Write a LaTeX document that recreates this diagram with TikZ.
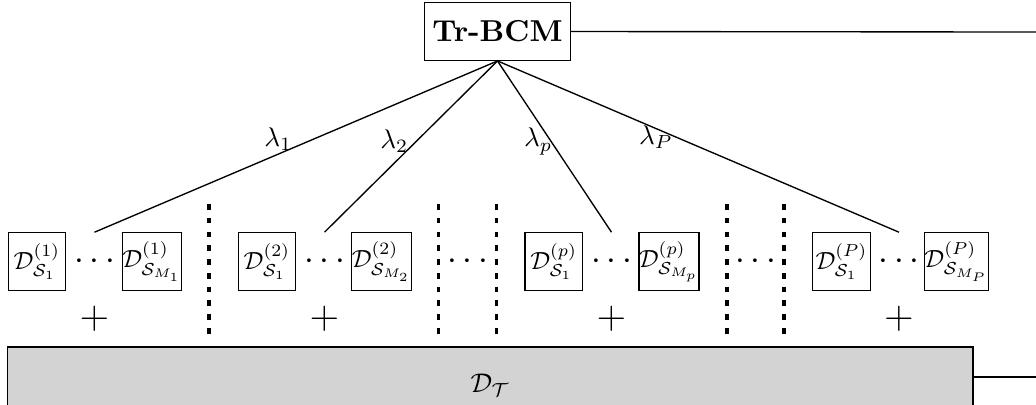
\documentclass[tikz,border=0pt]{standalone}
\usepackage{graphicx}
\usetikzlibrary{calc}
\newcommand{\bx}[1]{\scalebox{0.92}{$#1$}}
\newcommand{\dts}{\scalebox{1.3}{$\cdots$}}
\begin{document}
\begin{tikzpicture}[x=0.3704pt,y=-0.3704pt,
  box/.style={draw,inner sep=0pt,minimum size=21.3pt,line width=0.5pt},
  dotsnode/.style={inner sep=0pt,minimum height=21.3pt},
  plusnode/.style={inner sep=0pt,font=\Large},
  sep/.style={line width=1.2pt,dash pattern=on 2.1pt off 3pt},
  conn/.style={line width=0.5pt},
  lab/.style={inner sep=0pt}]
\useasboundingbox (0,0) rectangle (1036,404);
% top node
\node[draw,line width=0.5pt,inner sep=0pt,minimum width=54.1pt,minimum height=21.3pt] (bcm) at (497.5,31.5) {\scalebox{1.12}{\bfseries Tr-BCM}};
\coordinate (r1) at (1036,32);
\draw[conn] (bcm.east) -- (r1);
% group 1
\node[box] (a1) at (37,261.5) {\bx{\mathcal{D}^{(1)}_{\mathcal{S}_1}}};
\node[box] (b1) at (152,261.5) {\bx{\mathcal{D}^{(1)}_{\mathcal{S}_{M_1}}}};
\node[dotsnode] (d1) at (94.5,261.5) {\dts};
% group 2
\node[box] (a2) at (267,261.5) {\bx{\mathcal{D}^{(2)}_{\mathcal{S}_1}}};
\node[box] (b2) at (381.5,261.5) {\bx{\mathcal{D}^{(2)}_{\mathcal{S}_{M_2}}}};
\node[dotsnode] (d2) at (324.5,261.5) {\dts};
% group p
\node[box] (a3) at (553.8,261.5) {\bx{\mathcal{D}^{(p)}_{\mathcal{S}_1}}};
\node[box] (b3) at (669,261.5) {\bx{\mathcal{D}^{(p)}_{\mathcal{S}_{M_p}}}};
\node[dotsnode] (d3) at (611.5,261.5) {\dts};
% group P
\node[box] (a4) at (841.5,261.5) {\bx{\mathcal{D}^{(P)}_{\mathcal{S}_1}}};
\node[box] (b4) at (956.5,261.5) {\bx{\mathcal{D}^{(P)}_{\mathcal{S}_{M_P}}}};
\node[dotsnode] (d4) at (899,261.5) {\dts};
% middle dots
\node[dotsnode] (m1) at (467.5,261.5) {\dts};
\node[dotsnode] (m2) at (755.5,261.5) {\dts};
% plus signs
\node[plusnode] (p1) at (94.5,319) {$+$};
\node[plusnode] (p2) at (324.5,319) {$+$};
\node[plusnode] (p3) at (611.5,319) {$+$};
\node[plusnode] (p4) at (899,319) {$+$};
% separators
\foreach \xx in {209,438.5,496.5,727,784}
  \draw[sep] (\xx,204) -- (\xx,340);
% target domain
\node[draw,line width=0.5pt,fill={rgb,255:red,211;green,211;blue,211},inner sep=0pt,
  minimum width=357.6pt,minimum height=28.1pt] (dt) at (490.3,385) {$\mathcal{D}_{\mathcal{T}}$};
\coordinate (r2) at (1036,377);
\draw[conn] (dt.east |- r2) -- (r2);
% weighted connectors
\draw[conn] (bcm.south) -- node[lab,pos=0.544,yshift=5.7pt] {$\lambda_1$} (d1.north);
\draw[conn] (bcm.south) -- node[lab,pos=0.47,xshift=-8.1pt] {$\lambda_2$} (d2.north);
\draw[conn] (bcm.south) -- node[lab,pos=0.47,xshift=-4.8pt] {$\lambda_p$} (d3.north);
\draw[conn] (bcm.south) -- node[lab,pos=0.395,yshift=-3.3pt] {$\lambda_P$} (d4.north);
\end{tikzpicture}
\end{document}
